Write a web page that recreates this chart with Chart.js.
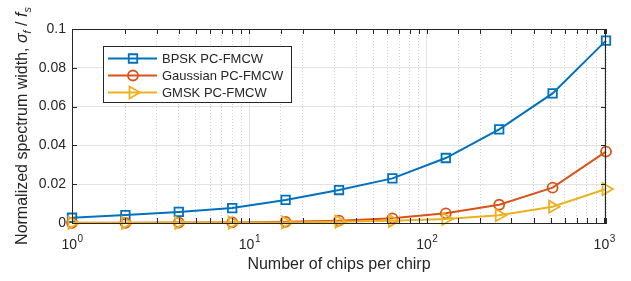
<!DOCTYPE html>
<html>
<head>
<meta charset="utf-8">
<script src="https://cdn.jsdelivr.net/npm/chart.js@4.4.1/dist/chart.umd.min.js"></script>
<style>
  html, body { margin: 0; padding: 0; background: #fff; }
</style>
</head>
<body>
<canvas id="chart_spectrum" width="631" height="281"></canvas>
<script>
// chips per chirp (x) and normalized spectrum width (y)
const chips = [1, 2, 4, 8, 16, 32, 64, 128, 256, 512, 1024];
const bpsk = [0.0027, 0.0041, 0.0057, 0.0077, 0.0119, 0.0170, 0.0230, 0.0335, 0.0483, 0.0668, 0.0940];
const gaussian = [0.0001, 0.0001, 0.0002, 0.0003, 0.0006, 0.0012, 0.0024, 0.0050, 0.0094, 0.0182, 0.0368];
const gmsk = [0.00005, 0.00005, 0.0001, 0.0002, 0.0003, 0.0007, 0.0011, 0.0021, 0.0040, 0.0084, 0.0175];

const seriesNames = ["BPSK PC-FMCW", "Gaussian PC-FMCW", "GMSK PC-FMCW"];
const yTicks = [0, 0.02, 0.04, 0.06, 0.08, 0.1];
const xDecades = [1, 10, 100, 1000];
const xExponents = ["0", "1", "2", "3"];

const FONT = '"Liberation Sans", Arial, Helvetica, sans-serif';
const INK = "#262626";
const GRID = "#e3e3e3";

const styles = [
  { color: "#0072BD", pointStyle: "rect", radius: 6, rotation: 0 },
  { color: "#D95319", pointStyle: "circle", radius: 5, rotation: 0 },
  { color: "#EDB120", pointStyle: "triangle", radius: 7, rotation: 90 },
];

function toPoints(values) {
  return chips.map((c, i) => ({ x: c, y: values[i] }));
}

function isDecade(v) {
  const l = Math.log10(v);
  return Math.abs(l - Math.round(l)) < 1e-9;
}

function drawMarker(ctx, st, x, y) {
  ctx.save();
  ctx.strokeStyle = st.color;
  ctx.lineWidth = 1.8;
  ctx.beginPath();
  if (st.pointStyle === "rect") {
    const s = st.radius * Math.SQRT1_2;
    ctx.rect(x - s, y - s, 2 * s, 2 * s);
  } else if (st.pointStyle === "circle") {
    ctx.arc(x, y, st.radius, 0, Math.PI * 2);
  } else {
    let a = (st.rotation * Math.PI) / 180;
    ctx.moveTo(x + Math.sin(a) * st.radius, y - Math.cos(a) * st.radius);
    a += (2 * Math.PI) / 3;
    ctx.lineTo(x + Math.sin(a) * st.radius, y - Math.cos(a) * st.radius);
    a += (2 * Math.PI) / 3;
    ctx.lineTo(x + Math.sin(a) * st.radius, y - Math.cos(a) * st.radius);
    ctx.closePath();
  }
  ctx.stroke();
  ctx.restore();
}

const matlabAxes = {
  id: "matlabAxes",
  afterDatasetsDraw(chart) {
    const { ctx, chartArea: a, scales } = chart;
    ctx.save();
    ctx.strokeStyle = INK;
    ctx.lineWidth = 1;
    ctx.strokeRect(Math.round(a.left) + 0.5, Math.round(a.top) + 0.5,
      Math.round(a.right - a.left) - 1, Math.round(a.bottom - a.top));
    // inward tick marks
    ctx.beginPath();
    scales.x.ticks.forEach((t) => {
      if (t.value > scales.x.max) return;
      const px = Math.round(scales.x.getPixelForValue(t.value)) + 0.5;
      ctx.moveTo(px, a.bottom); ctx.lineTo(px, a.bottom - 5);
      ctx.moveTo(px, a.top); ctx.lineTo(px, a.top + 5);
    });
    yTicks.forEach((v) => {
      const py = Math.round(scales.y.getPixelForValue(v)) + 0.5;
      ctx.moveTo(a.left, py); ctx.lineTo(a.left + 5, py);
      ctx.moveTo(a.right, py); ctx.lineTo(a.right - 5, py);
    });
    ctx.stroke();
    ctx.restore();
  },
  afterDraw(chart) {
    const { ctx, chartArea: a, scales } = chart;
    ctx.save();
    ctx.fillStyle = INK;

    // x tick labels 10^n
    ctx.textBaseline = "alphabetic";
    ctx.textAlign = "left";
    xDecades.forEach((v, i) => {
      const px = scales.x.getPixelForValue(v);
      ctx.font = "14px " + FONT;
      const wb = ctx.measureText("10").width;
      ctx.font = "10px " + FONT;
      const we = ctx.measureText(xExponents[i]).width;
      const x0 = px - (wb + we) / 2;
      ctx.font = "14px " + FONT;
      ctx.fillText("10", x0, a.bottom + 26);
      ctx.font = "10px " + FONT;
      ctx.fillText(xExponents[i], x0 + wb + 0.5, a.bottom + 19);
    });

    // x title
    ctx.font = "16px " + FONT;
    ctx.textAlign = "center";
    ctx.fillText("Number of chips per chirp", (a.left + a.right) / 2, a.bottom + 46);

    // y title with italic symbols
    const pieces = [
      { t: "Normalized spectrum width, ", f: "16px ", dy: 0 },
      { t: "\u03C3", f: "italic 16px ", dy: 0 },
      { t: "f", f: "italic 11px ", dy: 4 },
      { t: " / ", f: "16px ", dy: 0 },
      { t: "f", f: "italic 16px ", dy: 0 },
      { t: "s", f: "italic 11px ", dy: 4 },
    ];
    let total = 0;
    pieces.forEach((p) => {
      ctx.font = p.f + FONT;
      p.w = ctx.measureText(p.t).width;
      total += p.w;
    });
    ctx.translate(27, (a.top + a.bottom) / 2);
    ctx.rotate(-Math.PI / 2);
    ctx.textAlign = "left";
    let cx = -total / 2;
    pieces.forEach((p) => {
      ctx.font = p.f + FONT;
      ctx.fillText(p.t, cx, p.dy);
      cx += p.w;
    });
    ctx.restore();

    // legend box inside the axes
    ctx.save();
    const lx = Math.round(a.left) + 31, ly = Math.round(a.top) + 17, lw = 188, lh = 56;
    ctx.fillStyle = "#fff";
    ctx.fillRect(lx, ly, lw, lh);
    ctx.strokeStyle = INK;
    ctx.lineWidth = 1;
    ctx.strokeRect(lx + 0.5, ly + 0.5, lw, lh);
    seriesNames.forEach((name, i) => {
      const st = styles[i];
      const ry = ly + 12.5 + i * 17;
      ctx.strokeStyle = st.color;
      ctx.lineWidth = 2;
      ctx.beginPath();
      ctx.moveTo(lx + 5, ry);
      ctx.lineTo(lx + 54, ry);
      ctx.stroke();
      drawMarker(ctx, st, lx + 30, ry);
      ctx.fillStyle = INK;
      ctx.font = "13px " + FONT;
      ctx.textBaseline = "middle";
      ctx.textAlign = "left";
      ctx.fillText(name, lx + 59, ry + 0.5);
    });
    ctx.restore();
  },
};

const seriesData = [bpsk, gaussian, gmsk];

new Chart(document.getElementById("chart_spectrum"), {
  type: "line",
  data: {
    datasets: seriesData.map((vals, i) => ({
      label: seriesNames[i],
      data: toPoints(vals),
      borderColor: styles[i].color,
      backgroundColor: "rgba(0,0,0,0)",
      borderWidth: 2,
      pointStyle: styles[i].pointStyle,
      pointRadius: styles[i].radius,
      pointRotation: styles[i].rotation,
      pointBorderWidth: 1.8,
      pointBorderColor: styles[i].color,
      pointBackgroundColor: "rgba(0,0,0,0)",
      tension: 0,
      fill: false,
      clip: false,
      order: 2 - i,
    })),
  },
  options: {
    responsive: false,
    animation: false,
    events: [],
    layout: { padding: { left: 0, top: 29, right: 25, bottom: 0 } },
    plugins: {
      legend: { display: false },
      tooltip: { enabled: false },
    },
    scales: {
      x: {
        type: "logarithmic",
        min: 1,
        max: 1024,
        afterFit: (s) => { s.height = 58; },
        ticks: { display: false },
        grid: {
          drawTicks: false,
          color: (c) => (c.tick && !isDecade(c.tick.value) ? "#d4d4d4" : GRID),
        },
        border: {
          color: INK,
          dash: (c) => (c.tick && !isDecade(c.tick.value) ? [1, 2] : []),
        },
      },
      y: {
        min: 0,
        max: 0.1,
        afterFit: (s) => { s.width = 72; },
        afterBuildTicks: (s) => { s.ticks = yTicks.map((v) => ({ value: v })); },
        ticks: {
          color: INK,
          padding: 6,
          font: { family: FONT, size: 14 },
          callback: (v) => (v === 0 ? "0" : String(+v.toFixed(2))),
        },
        grid: { drawTicks: false, color: GRID },
        border: { color: INK },
      },
    },
  },
  plugins: [matlabAxes],
});
</script>
</body>
</html>
